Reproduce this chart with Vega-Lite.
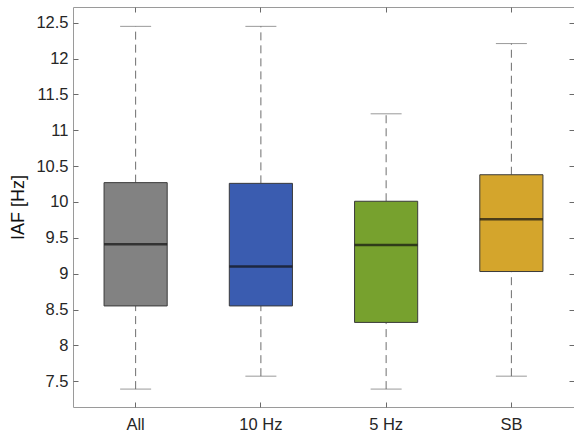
{
  "$schema": "https://vega.github.io/schema/vega-lite/v6.json",
  "autosize": {"type": "none"},
  "padding": {"left": 73, "top": 7, "right": 0, "bottom": 29},
  "width": 501,
  "height": 400,
  "background": "white",
  "config": {
    "view": {"stroke": "#9a9a9a", "strokeWidth": 1},
    "font": "Liberation Sans",
    "axis": {"grid": false, "domain": false, "ticks": true, "tickColor": "#6a6a6a", "tickSize": 5, "tickWidth": 1, "tickOpacity": 1, "labelColor": "#262626", "labelFont": "Liberation Sans", "labelFontSize": 16.5, "labelOverlap": false, "titleFont": "Liberation Sans"}
  },
  "resolve": {"axis": {"x": "independent", "y": "independent"}},
  "data": {
    "values": [
      {"group": "All", "min": 7.39, "q1": 8.55, "median": 9.41, "q3": 10.27, "max": 12.45},
      {"group": "10 Hz", "min": 7.57, "q1": 8.55, "median": 9.10, "q3": 10.26, "max": 12.45},
      {"group": "5 Hz", "min": 7.39, "q1": 8.32, "median": 9.40, "q3": 10.01, "max": 11.23},
      {"group": "SB", "min": 7.57, "q1": 9.03, "median": 9.76, "q3": 10.38, "max": 12.21}
    ]
  },
  "layer": [
    {
      "mark": {"type": "rule", "color": "#6e6e6e", "strokeWidth": 1, "strokeDash": [8, 5]},
      "encoding": {
        "x": {
          "field": "group",
          "type": "nominal",
          "sort": ["All", "10 Hz", "5 Hz", "SB"],
          "scale": {"paddingInner": 0, "paddingOuter": 0},
          "axis": {"orient": "bottom", "title": null, "labelAngle": 0, "labelPadding": 9, "offset": -5, "ticks": true, "tickSize": 5}
        },
        "y": {"field": "q3", "type": "quantitative", "scale": {"domain": [7.14, 12.72], "nice": false, "zero": false},
          "axis": {"orient": "left", "title": "IAF [Hz]", "titleFontSize": 18, "titleColor": "#111111", "titleFontWeight": "normal", "values": [7.5, 8, 8.5, 9, 9.5, 10, 10.5, 11, 11.5, 12, 12.5], "format": "~g", "labelPadding": 5, "titlePadding": 8, "offset": -5, "ticks": true, "tickSize": 5}},
        "y2": {"field": "max"}
      }
    },
    {
      "mark": {"type": "rule", "color": "#6e6e6e", "strokeWidth": 1, "strokeDash": [8, 5]},
      "encoding": {
        "x": {"field": "group", "type": "nominal", "sort": ["All", "10 Hz", "5 Hz", "SB"],
          "axis": {"orient": "top", "title": null, "labels": false, "offset": -5, "ticks": true, "tickSize": 5}},
        "y": {"field": "min", "type": "quantitative",
          "axis": {"orient": "right", "title": null, "labels": false, "offset": -5, "ticks": true, "tickSize": 5, "values": [7.5, 8, 8.5, 9, 9.5, 10, 10.5, 11, 11.5, 12, 12.5]}},
        "y2": {"field": "q1"}
      }
    },
    {
      "mark": {"type": "tick", "color": "#6e6e6e", "size": 31, "thickness": 1},
      "encoding": {
        "x": {"field": "group", "type": "nominal", "sort": ["All", "10 Hz", "5 Hz", "SB"], "axis": null},
        "y": {"field": "max", "type": "quantitative", "axis": null}
      }
    },
    {
      "mark": {"type": "tick", "color": "#6e6e6e", "size": 31, "thickness": 1},
      "encoding": {
        "x": {"field": "group", "type": "nominal", "sort": ["All", "10 Hz", "5 Hz", "SB"], "axis": null},
        "y": {"field": "min", "type": "quantitative", "axis": null}
      }
    },
    {
      "mark": {"type": "bar", "width": {"band": 0.504}, "stroke": "#3a3a3a", "strokeWidth": 1},
      "encoding": {
        "x": {"field": "group", "type": "nominal", "sort": ["All", "10 Hz", "5 Hz", "SB"], "axis": null},
        "y": {"field": "q1", "type": "quantitative", "axis": null},
        "y2": {"field": "q3"},
        "color": {
          "field": "group",
          "type": "nominal",
          "scale": {"domain": ["All", "10 Hz", "5 Hz", "SB"], "range": ["#828282", "#3a5cb0", "#77a12e", "#d4a52c"]},
          "legend": null
        }
      }
    },
    {
      "mark": {"type": "tick", "color": "#111111", "size": 63, "thickness": 2.5},
      "encoding": {
        "x": {"field": "group", "type": "nominal", "sort": ["All", "10 Hz", "5 Hz", "SB"], "axis": null},
        "y": {"field": "median", "type": "quantitative", "axis": null}
      }
    }
  ]
}
